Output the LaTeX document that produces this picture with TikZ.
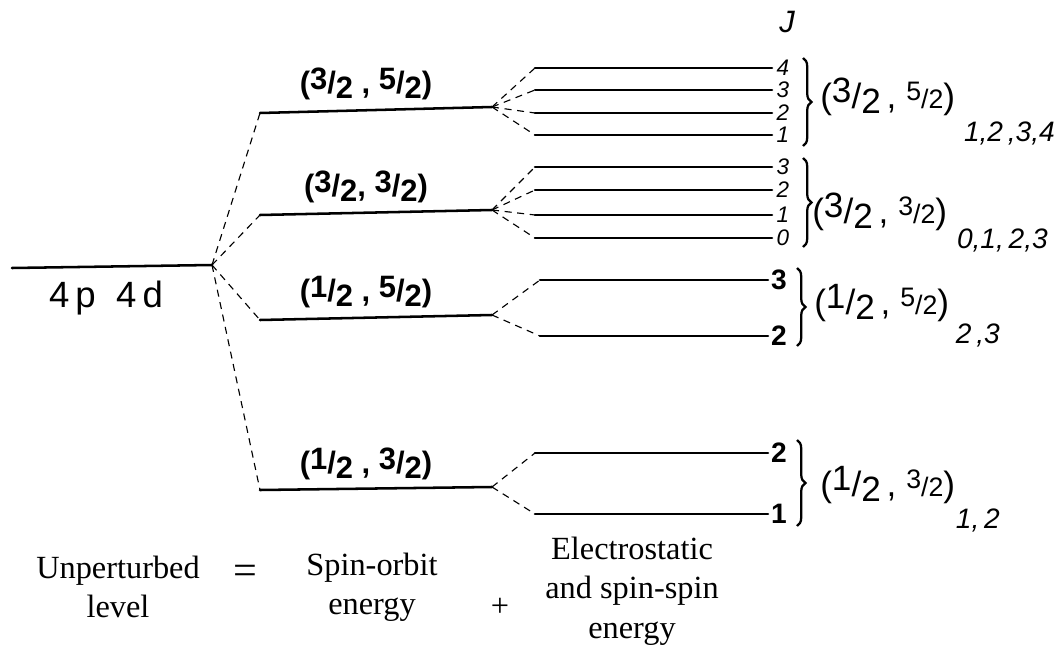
\documentclass[tikz,border=0pt]{standalone}
\usepackage{fontspec}
\setmainfont{Liberation Serif}
\newfontfamily\handfont{Liberation Sans}
\usetikzlibrary{decorations.pathreplacing}
\newcommand{\hfr}[2]{\raisebox{0.15em}{#1}/\raisebox{-0.15em}{#2}}
\newcommand{\sfr}[2]{{\fontsize{19}{20}\selectfont\raisebox{0.3em}{#1}/#2}}

\begin{document}
\begin{tikzpicture}[x=0.025cm,y=-0.025cm,
    level/.style={line width=1.8pt,line cap=round},
    split/.style={line width=0.8pt,dash pattern=on 5pt off 4pt},
    solab/.style={font=\handfont\bfseries\fontsize{22}{24}\selectfont},
    grplab/.style={font=\handfont\fontsize{25}{28}\selectfont,anchor=west,inner sep=0pt},
    sublab/.style={font=\handfont\itshape\fontsize{20}{20}\selectfont,anchor=east,inner sep=0pt},
    jnum/.style={font=\handfont\itshape\fontsize{16}{16}\selectfont,anchor=west,inner sep=0pt},
    jbig/.style={font=\handfont\bfseries\fontsize{20}{20}\selectfont,anchor=west,inner sep=0pt},
    brc/.style={decorate,decoration={brace,amplitude=6pt},line width=1.6pt},
    caption/.style={font=\fontsize{23}{28}\selectfont,align=center}]

  \useasboundingbox (0,0) rectangle (1060,657);

  % unperturbed level
  \coordinate (u0) at (12,268);
  \coordinate (u1) at (212,265);
  \draw[level] (u0) -- (u1);
  \node[font=\handfont\fontsize{26}{28}\selectfont] (ulab) at (106,298) {4\,p~~4\,d};

  % spin-orbit levels
  \foreach \n/\ya/\yb/\lab in {a/113/107/{(\hfr32 , \hfr52)},b/215/210/{(\hfr32, \hfr32)},
      c/320/315/{(\hfr12 , \hfr52)},d/490/487/{(\hfr12 , \hfr32)}} {
    \coordinate (\n0) at (260,\ya);
    \coordinate (\n1) at (492,\yb);
    \draw[level] (\n0) -- (\n1);
    \draw[split] (u1) -- (\n0);
    \node[solab] (lab\n) at (366,\yb-23) {\lab};
  }

  % electrostatic and spin-spin splitting
  \node[font=\handfont\itshape\fontsize{22}{22}\selectfont] (jhead) at (787,22) {J};
  \foreach \y/\j in {68/4,90/3,113/2,135/1} {
    \coordinate (ea\j) at (535,\y);
    \coordinate (fa\j) at (772,\y);
    \draw[level] (ea\j) -- (fa\j);
    \draw[split] (a1) -- (ea\j);
    \node[jnum] (ja\j) at ([xshift=3pt]fa\j) {\j};
  }
  \foreach \y/\j in {167/3,190/2,215/1,238/0} {
    \coordinate (eb\j) at (535,\y);
    \coordinate (fb\j) at (772,\y);
    \draw[level] (eb\j) -- (fb\j);
    \draw[split] (b1) -- (eb\j);
    \node[jnum] (jb\j) at ([xshift=3pt]fb\j) {\j};
  }
  \foreach \y/\j in {280/3,336/2} {
    \coordinate (ec\j) at (540,\y);
    \coordinate (fc\j) at (768,\y);
    \draw[level] (ec\j) -- (fc\j);
    \draw[split] (c1) -- (ec\j);
    \node[jbig] (jc\j) at ([xshift=2pt]fc\j) {\j};
  }
  \foreach \y/\j in {453/2,514/1} {
    \coordinate (ed\j) at (535,\y);
    \coordinate (fd\j) at (768,\y);
    \draw[level] (ed\j) -- (fd\j);
    \draw[split] (d1) -- (ed\j);
    \node[jbig] (jd\j) at ([xshift=2pt]fd\j) {\j};
  }

  % braces and term labels
  \draw[brc] (803,58) -- (803,146);
  \draw[brc] (803,158) -- (803,247);
  \draw[brc] (797,268) -- (797,346);
  \draw[brc] (797,440) -- (797,526);
  \node[grplab] (ga) at (820,97) {(\hfr32\,, \sfr52)};
  \node[sublab] (gasub) at (1055,133) {1,2\,,3,4};
  \node[grplab] (gb) at (812,212) {(\hfr32\,, \sfr32)};
  \node[sublab] (gbsub) at (1048,240) {0,1,\,2,3};
  \node[grplab] (gc) at (814,303) {(\hfr12\,, \sfr52)};
  \node[sublab] (gcsub) at (1000,335) {2\,,3};
  \node[grplab] (gd) at (820,485) {(\hfr12\,, \sfr32)};
  \node[sublab] (gdsub) at (1000,520) {1,\,2};

  % captions
  \node[caption] (unp) at (118,587) {Unperturbed\\level};
  \node[caption,font=\fontsize{30}{30}\selectfont] (eq) at (245,575) {=};
  \node[caption] (spo) at (372,587) {Spin-orbit\\energy};
  \node[caption] (plus) at (500,607) {+};
  \node[caption] (els) at (632,591) {Electrostatic\\and spin-spin\\energy};
\end{tikzpicture}
\end{document}
